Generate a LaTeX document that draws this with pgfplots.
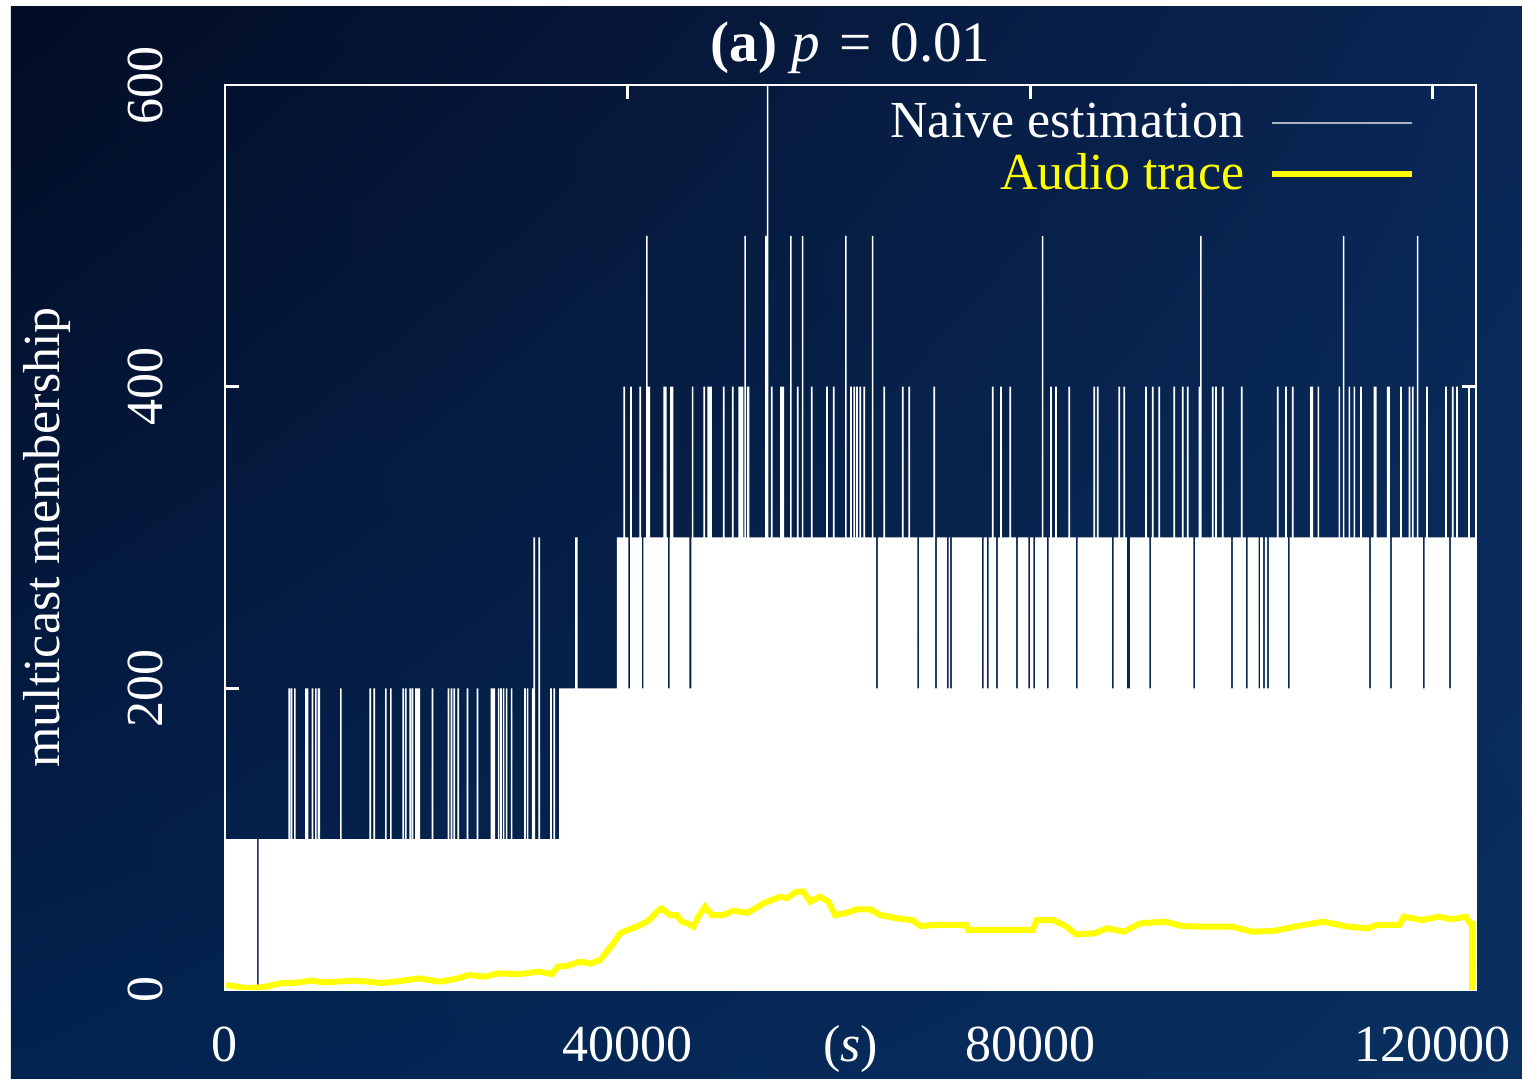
\documentclass[border=0pt]{standalone}
\usepackage{fontspec}
\setmainfont{Liberation Serif}
\usepackage{pgfplots}
\pgfplotsset{compat=1.18}
\usetikzlibrary{shadings}

\definecolor{bgUL}{RGB}{3,12,36}
\definecolor{bgUR}{RGB}{10,38,85}
\definecolor{bgLL}{RGB}{3,34,80}
\definecolor{bgLR}{RGB}{8,48,96}
\definecolor{naivegray}{RGB}{170,178,192}
\definecolor{audioyellow}{RGB}{255,255,0}

\newcommand\basefont{\fontsize{13}{15.6}\selectfont}

\begin{document}
\begin{tikzpicture}
% slide background: thin white margin and a navy gradient
\fill[white] (-56.25pt,-22.25pt) rectangle (324.25pt,247.5pt);
\shade[upper left=bgUL, upper right=bgUR, lower left=bgLL, lower right=bgLR]
  (-53.5pt,-22.25pt) rectangle (324.25pt,245.75pt);
\begin{axis}[
  width=312.75pt, height=226.25pt, scale only axis,
  xmin=0, xmax=124300, ymin=0, ymax=600,
  axis line style={white, line width=0.7pt},
  tick style={white, line width=0.7pt},
  tick align=inside, major tick length=3.5pt,
  xtick={0,40000,80000,120000}, xticklabels={0,40000,80000,120000},
  ytick={0,200,400,600}, yticklabels={0,200,400,600},
  ticklabel style={font=\basefont, text=white, inner sep=1pt},
  xticklabel style={anchor=base, yshift=-18pt},
  yticklabel style={xshift=-15.5pt, rotate=90, anchor=base},
  xlabel={(\textit{s})},
  xlabel style={at={(axis description cs:0.5,0)}, anchor=base, yshift=-18pt, inner sep=1pt, font=\basefont, text=white},
  ylabel={multicast membership},
  ylabel style={at={(axis description cs:-0.142,0.5)}, anchor=center, font=\basefont, text=white},
  title={\textbf{(a)} \textit{p}\,\,=\,\,0.01},
  title style={font=\fontsize{14.3}{17}\selectfont, text=white, yshift=-6.75pt},
  legend style={draw=none, fill=none, text=white, font=\basefont,
    at={(rel axis cs:1,1)}, anchor=north east, xshift=-12pt, yshift=-0.25pt, row sep=-1.5pt},
  legend cell align=right, legend plot pos=right,
]
% naive membership estimate: step trace filled down to the axis
\addplot[const plot, fill=white, draw=none,
  legend image code/.code={\path[draw=none, fill=none] (0pt,0pt) -- (40pt,0pt);
    \draw[naivegray, line width=0.5pt] (5pt,0pt) -- (40pt,0pt);}]
coordinates {
(0,100) (3180,0) (3330,100)
(6291,200) (6461,100) (6529,200) (6699,100) (6857,200) (7027,100)
(7950,200) (8280,100) (8616,200) (8786,100) (8944,200) (9114,100)
(9212,200) (9442,100) (11429,200) (11599,100) (14340,200) (14510,100)
(14738,200) (14908,100) (15901,200) (16071,100) (16398,200) (16568,100)
(17620,200) (17790,100) (17888,200) (18058,100) (18316,200) (18486,100)
(18554,200) (18724,100) (18882,200) (19382,100) (20542,200) (20712,100)
(22132,200) (22302,100) (22430,200) (22600,100) (22689,200) (22859,100)
(23086,200) (23256,100) (24020,200) (24190,100) (25014,200) (25184,100)
(26405,200) (26835,100) (27101,200) (27271,100) (27330,200) (27500,100)
(27598,200) (27768,100) (27896,200) (28066,100) (28393,200) (28563,100)
(29715,200) (29885,100) (29983,200) (30153,100) (30480,200) (30639,300)
(30809,100) (31136,300) (31306,100) (32299,200) (32469,100) (32627,200)
(32797,100) (33200,200) (34783,300) (35033,200)
(38930,300) (39583,400) (39753,300) (40080,200) (40249,400) (40419,300)
(41173,400) (41343,300) (41411,200) (41581,300) (41839,500) (41989,400)
(42240,300) (43558,400) (43888,300) (43996,200) (44166,300) (44224,400)
(44554,300) (46150,200) (46350,300) (46380,400) (46550,300) (47534,400)
(47704,300) (47931,400) (48371,300) (49462,400) (49632,300) (50356,400)
(50526,300) (51012,400) (51512,300) (51608,500) (51758,300) (51846,400)
(52106,300) (53665,500) (53834,600) (53984,300) (54232,400) (54402,300)
(55156,400) (55556,300) (56150,500) (56300,300) (56815,400) (56985,300)
(57312,500) (57462,300) (58206,400) (58376,300) (59727,400) (59897,300)
(60393,400) (60563,300) (61616,500) (61766,300) (62112,400) (62282,300)
(62440,400) (62610,300) (62709,400) (62879,300) (63037,400) (63207,300)
(63434,400) (63604,300) (64269,500) (64419,300) (64696,200) (64866,300)
(65422,400) (65592,300) (67250,400) (67420,300) (67906,400) (68076,300)
(68801,200) (68971,300) (70391,400) (70560,200) (70730,300) (71723,200)
(71893,300) (72051,200) (72221,300) (75201,200) (75371,300) (75698,200)
(75868,300) (76194,400) (76364,300) (76622,200) (76792,300) (77020,400)
(77190,300) (77944,400) (78114,300) (78610,200) (78780,300) (79833,200)
(80003,300) (80329,200) (80499,300) (81164,500) (81314,300) (81661,200)
(81831,300) (81989,400) (82159,300) (82485,400) (82655,300) (83807,400)
(83977,300) (84543,200) (84713,300) (86292,400) (86462,300) (86630,400)
(86800,300) (88120,200) (88290,300) (88777,400) (88947,300) (89274,400)
(89444,300) (89600,200) (89930,300) (91430,400) (91600,300) (91857,200)
(92027,300) (92096,400) (92266,300) (92752,400) (92922,300) (94243,400)
(94413,300) (95078,400) (95248,300) (95575,400) (95745,300) (96230,200)
(96400,300) (96728,400) (96896,500) (97046,300) (98058,400) (98228,300)
(98386,400) (98556,300) (99052,400) (99222,300) (99976,200) (100146,300)
(100940,400) (101110,300) (101437,200) (101607,300) (102689,200) (102859,300)
(103156,200) (103326,300) (103554,200) (103724,300) (104518,400) (104688,300)
(105343,400) (105513,300) (105611,200) (105781,300) (106009,400) (106179,300)
(107827,400) (108127,300) (108553,400) (108723,300) (110640,400) (110810,300)
(111077,500) (111227,300) (111634,400) (111804,300) (112131,400) (112301,300)
(112796,400) (112966,300) (113691,200) (113861,300) (114118,400) (114418,300)
(115450,400) (115750,300) (115778,200) (115948,300) (116772,400) (116942,300)
(117597,400) (117767,300) (117935,400) (118105,300) (118430,500) (118580,300)
(119026,200) (119196,300) (119355,400) (119525,300) (121244,400) (121414,300)
(121641,200) (121811,300) (121909,400) (122079,300) (122337,400) (122507,300)
(123529,400) (123699,300) (124300,300)
} \closedcycle;
\addlegendentry{Naive estimation}
% measured membership of the audio session
\addplot[audioyellow, line width=1.5pt,
  legend image code/.code={\path[draw=none, fill=none] (0pt,0pt) -- (40pt,0pt);
    \draw[audioyellow, line width=1.5pt] (5pt,0pt) -- (40pt,0pt);}]
coordinates {
(99,3.3) (1000,2.5) (1988,1.3) (3000,1.5) (4035,2.2) (5665,4.6) (7000,4.8)
(8547,6.2) (9799,5.0) (11000,5.5) (12691,6.2) (14000,5.6) (15573,4.6)
(17500,6.0) (19280,7.7) (21337,5.5) (23000,7.5) (24229,9.9) (25839,8.8)
(27111,11) (29168,10.5) (31205,12.2) (32467,10.5) (33083,15.5) (34000,16.0)
(35280,18.8) (36300,17.5) (37268,19.9) (37934,25.4) (38600,31) (39255,37.6)
(40100,40) (40914,42) (41908,45.3) (42400,48) (42901,51.9) (43398,54.1)
(44224,49.7) (44890,49.7) (45387,45.3) (46000,44) (46539,42) (47037,48.6)
(47702,55.2) (48368,49.7) (49521,49.7) (50515,52.6) (51846,51.2) (52700,54)
(53496,57.5) (54300,59.5) (55156,61.9) (55821,60.8) (56300,63) (56815,65.2)
(57471,65.2) (58137,58.6) (59131,61.9) (59956,58.6) (60622,49.7) (61785,51.2)
(62779,53.5) (64101,53.5) (65094,49.7) (66754,47.5) (68274,46.4) (69119,42.4)
(70361,43.1) (73641,43.1) (73839,39.8) (80239,39.8) (80657,46.4) (82287,46.4)
(83539,42.4) (84572,36.9) (86420,37.6) (87653,40.9) (89302,38.7) (90933,44.2)
(93417,45.3) (95077,42.4) (97134,42) (100016,42) (102063,38.7) (104141,39.1)
(106615,42.4) (109080,45.3) (111555,42) (113593,40.9) (114437,43.1) (116703,43.1)
(117121,48.6) (118960,46.4) (120619,48.6) (121840,46.9) (123301,48.6) (123709,44.2)
(123918,44) (123918,0)
};
\addlegendentry{\textcolor{audioyellow}{Audio trace}}
\end{axis}
\pgfresetboundingbox
\path[use as bounding box] (-56.25pt,-22.25pt) rectangle (324.25pt,247.5pt);
\end{tikzpicture}
\end{document}
